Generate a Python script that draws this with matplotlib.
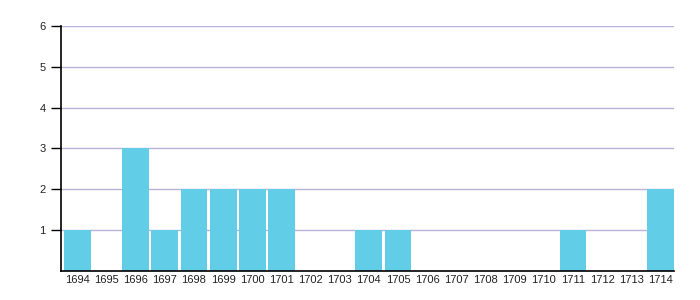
import numpy as np
import matplotlib
matplotlib.use('Agg')
import matplotlib.pyplot as plt

plt.rcParams['font.family'] = ['Liberation Sans', 'DejaVu Sans']

# data
years = ['1694', '1695', '1696', '1697', '1698', '1699', '1700', '1701', '1702',
         '1703', '1704', '1705', '1706', '1707', '1708', '1709', '1710', '1711',
         '1712', '1713', '1714']
counts = [1, 0, 3, 1, 2, 2, 2, 2, 0, 0, 1, 1, 0, 0, 0, 0, 0, 1, 0, 0, 2]
yticks = [1, 2, 3, 4, 5, 6]

fig = plt.figure(figsize=(7, 3), dpi=100)
ax = fig.add_axes([0.0871, 0.0967, 0.876, 0.817])

x = np.arange(len(years))
ax.bar(x, counts, width=0.92, color='#62cde6', zorder=2)

ax.set_xlim(-0.56, len(years) - 0.53)
ax.set_ylim(0, 6)
ax.set_yticks(yticks)
ax.set_xticks(x)
ax.set_xticklabels(years)
ax.tick_params(axis='x', length=0, labelsize=8, pad=3, colors='#222222')
ax.tick_params(axis='y', length=7, width=1, labelsize=8, pad=4, colors='black')
for lbl in ax.get_yticklabels():
    lbl.set_color('#222222')
ax.grid(axis='y', color='#b9b2d9', linewidth=1, zorder=1)

for s in ['top', 'right']:
    ax.spines[s].set_visible(False)
ax.spines['left'].set_linewidth(1.2)
ax.spines['bottom'].set_linewidth(1.2)

fig.savefig('out.png', dpi=100)
